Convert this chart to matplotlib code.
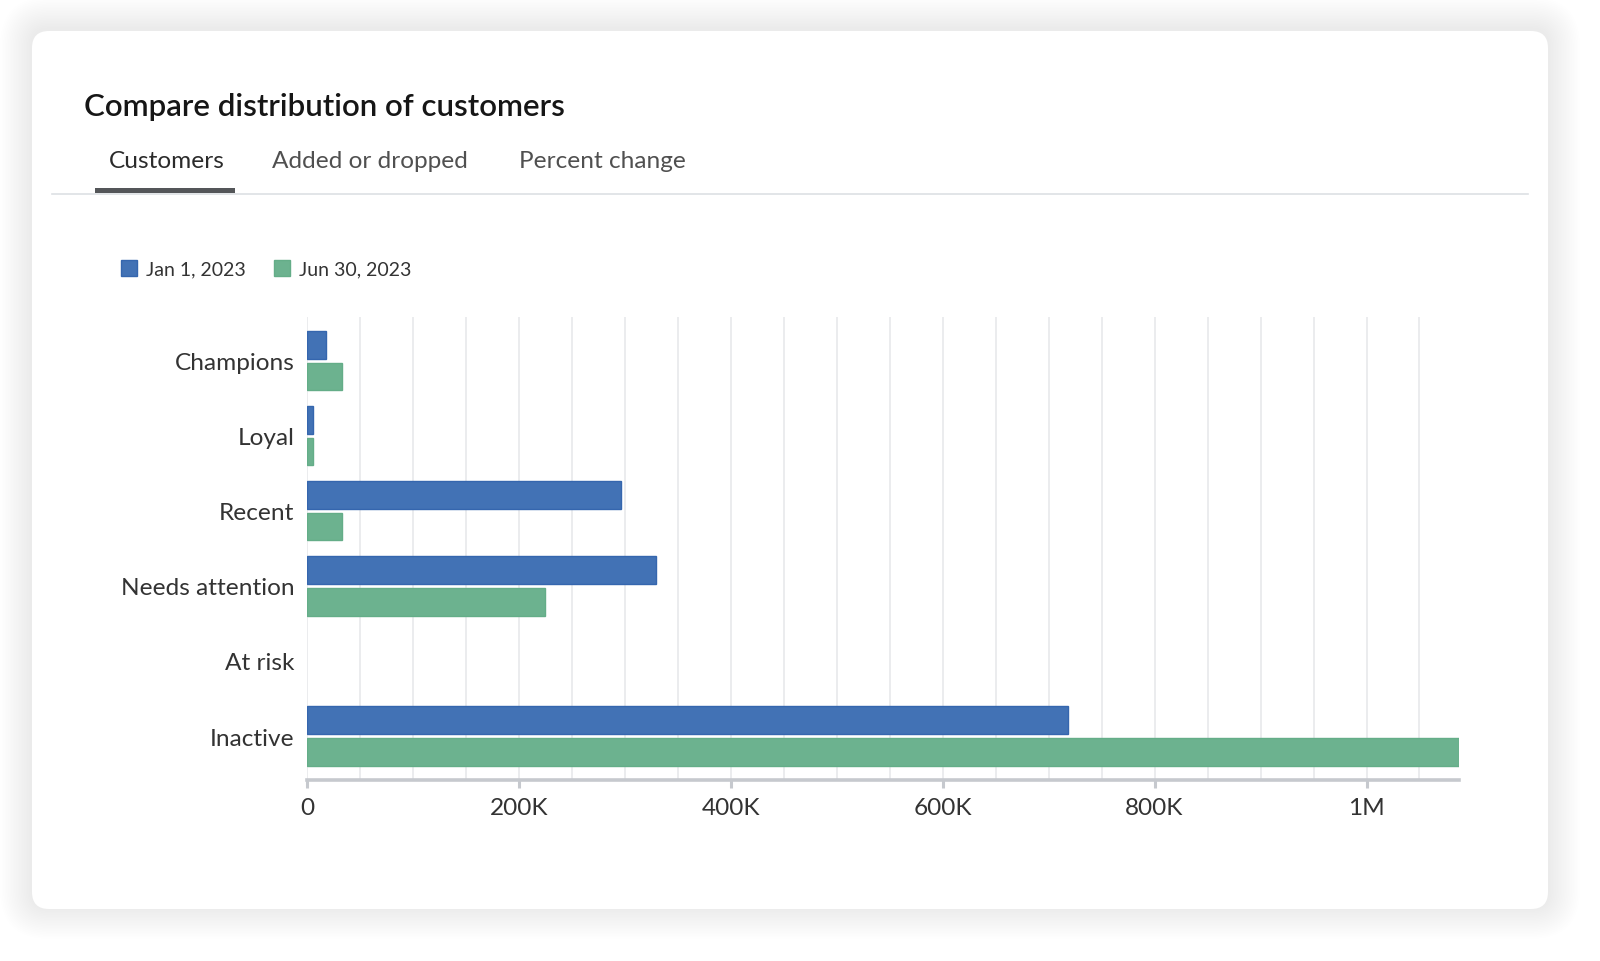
import matplotlib
matplotlib.use("Agg")
import matplotlib.pyplot as plt
from matplotlib.patches import FancyBboxPatch, Rectangle
from matplotlib.lines import Line2D
from matplotlib.ticker import MultipleLocator

# ---- data ----
categories = ["Champions", "Loyal", "Recent", "Needs attention", "At risk", "Inactive"]
jan_values = [18000, 5500, 296000, 329000, 0, 718000]
jun_values = [33500, 5700, 33500, 225000, 0, 1087000]
series_labels = ["Jan 1, 2023", "Jun 30, 2023"]
tick_values = [0, 200000, 400000, 600000, 800000, 1000000]
tick_labels = ["0", "200K", "400K", "600K", "800K", "1M"]
tab_labels = ["Customers", "Added or dropped", "Percent change"]
title_text = "Compare distribution of customers"

BLUE = "#4272b5"
BLUE_EDGE = "#3566ae"
GREEN = "#6cb28f"
GREEN_EDGE = "#64ad88"

plt.rcParams["font.family"] = ["Lato", "DejaVu Sans"]

W, H = 1600, 962
fig = plt.figure(figsize=(16, 9.62), dpi=100)
fig.patch.set_facecolor("white")

def fx(px):
    return px / W

def fy(py):
    return 1 - py / H

# ---- card with soft shadow ----
cx0, cy0, cx1, cy1 = 32, 32, 1548, 910
for i in range(20, 0, -1):
    pad = i * 1.6
    sh = FancyBboxPatch((fx(cx0 - pad), fy(cy1 + pad - 2)),
                        fx(cx1 - cx0 + 2 * pad), (cy1 - cy0 + 2 * pad) / H,
                        boxstyle="round,pad=0,rounding_size=%f" % ((17 + pad) / W),
                        transform=fig.transFigure, facecolor="black",
                        edgecolor="none", alpha=0.003, zorder=0,
                        mutation_aspect=W / H)
    fig.patches.append(sh)
card = FancyBboxPatch((fx(cx0), fy(cy1)), fx(cx1 - cx0), (cy1 - cy0) / H,
                      boxstyle="round,pad=0,rounding_size=%f" % (17 / W),
                      transform=fig.transFigure, facecolor="white",
                      edgecolor="none", zorder=1,
                      mutation_aspect=W / H)
fig.patches.append(card)

# ---- title and tabs ----
fig.text(fx(84), fy(107), title_text, fontsize=22.5, fontweight="semibold",
         color="#161616", va="center", ha="left", zorder=3)
tab_x = [109, 272, 519]
for lbl, x, c in zip(tab_labels, tab_x, ["#2b2b2b", "#505050", "#505050"]):
    fig.text(fx(x), fy(161), lbl, fontsize=17.6, color=c, va="center",
             ha="left", zorder=3)
fig.lines.append(Line2D([fx(52), fx(1528)], [fy(195), fy(195)],
                        transform=fig.transFigure, color="#dde0e4",
                        linewidth=1.2, zorder=2))
fig.patches.append(Rectangle((fx(95), fy(194)), fx(140), 5.5 / H,
                             transform=fig.transFigure, facecolor="#545659",
                             edgecolor="none", zorder=3))

# ---- chart axes ----
ax = fig.add_axes([fx(307), fy(781), fx(1458.7 - 307), (781 - 318) / H])
ax.set_zorder(4)
ax.patch.set_alpha(0)

ypos = list(range(len(categories)))
off = 0.21
bh = 0.37
b1 = ax.barh([y - off for y in ypos], jan_values, height=bh, color=BLUE,
             edgecolor=BLUE_EDGE, linewidth=1.0, label=series_labels[0], zorder=3)
b2 = ax.barh([y + off for y in ypos], jun_values, height=bh, color=GREEN,
             edgecolor=GREEN_EDGE, linewidth=1.0, label=series_labels[1], zorder=3)
for p in list(b1) + list(b2):
    if p.get_width() == 0:
        p.set_visible(False)

ax.set_xlim(0, max(jun_values))
ax.set_ylim(5.586, -0.582)
ax.set_yticks(ypos)
ax.set_yticklabels(categories)
ax.set_xticks(tick_values)
ax.set_xticklabels(tick_labels)
ax.xaxis.set_minor_locator(MultipleLocator(50000))

ax.grid(which="both", axis="x", color="#e8e9eb", linewidth=1.2, zorder=0)
ax.set_axisbelow(True)

for s in ["top", "right", "left"]:
    ax.spines[s].set_visible(False)
ax.spines["bottom"].set_color("#c6c9ce")
ax.spines["bottom"].set_linewidth(2.6)

ax.tick_params(axis="x", which="major", length=6, width=2.2, color="#c6c9ce",
               pad=6, labelsize=17.6, labelcolor="#333333")
ax.tick_params(axis="x", which="minor", length=0)
ax.tick_params(axis="y", length=0, pad=9, labelsize=17.6, labelcolor="#333333")

leg = ax.legend(handles=[b1, b2], labels=series_labels, loc="center left",
                bbox_to_anchor=(fx(103), fy(270)), bbox_transform=fig.transFigure,
                ncol=2, frameon=False, fontsize=14, handlelength=0.85,
                handleheight=0.85, handletextpad=0.45, columnspacing=1.45,
                labelcolor="#333333")

fig.savefig("out.png", dpi=100, facecolor="white")
